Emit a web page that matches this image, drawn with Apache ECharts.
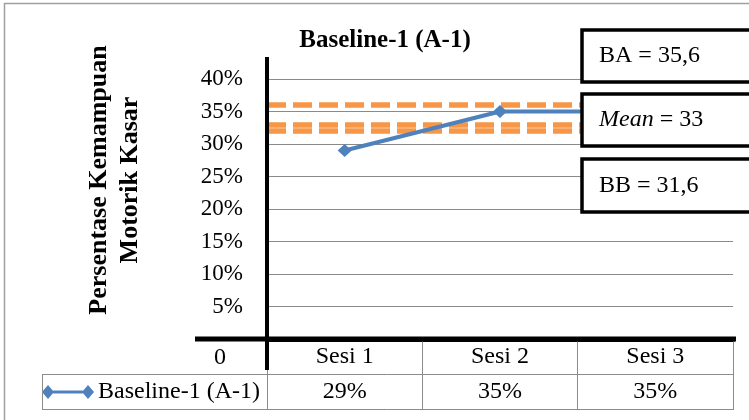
<!DOCTYPE html>
<html>
<head>
<meta charset="utf-8">
<script src="https://cdn.jsdelivr.net/npm/echarts@6/dist/echarts.min.js"></script>
<style>
  html, body { margin: 0; padding: 0; background: #fff; }
  #chart { width: 749px; height: 420px; }
</style>
</head>
<body>
<div id="chart"></div>
<script>
// Sessions and measured percentages
const sessions = ['Sesi 1', 'Sesi 2', 'Sesi 3'];
const baselineValues = [0.29, 0.35, 0.35];
const seriesName = 'Baseline-1 (A-1)';

// Stability band: upper limit, mean, lower limit (in percent)
const bandNames = ['BA', 'Mean', 'BB'];
const bandValues = [35.6, 33, 31.6];

// Y axis ticks
const yMin = 0;
const yMax = 0.4;
const yStep = 0.05;

const serif = '"Liberation Serif", "Times New Roman", serif';
const blue = '#4F81BD';
const orange = '#F79646';
const gridGray = '#8a8a8a';
const tableGray = '#8c8c8c';

const fmtPct = v => Math.round(v * 100) + '%';
const fmtComma = v => String(v).replace('.', ',');

// Annotation boxes to the right of the plot
const boxes = [
  { y: 30, h: 52, text: bandNames[0] + ' = ' + fmtComma(bandValues[0]) },
  { y: 94, h: 52, text: '{it|' + bandNames[1] + '} = ' + fmtComma(bandValues[1]) },
  { y: 159, h: 53, text: bandNames[2] + ' = ' + fmtComma(bandValues[2]) }
];

const chart = echarts.init(document.getElementById('chart'));

const graphics = [
  // outer chart border
  { type: 'rect', shape: { x: 4.5, y: 3.5, width: 760, height: 440 },
    style: { fill: 'none', stroke: '#a0a0a0', lineWidth: 1.5 }, z: 0 },
  // axis title
  { type: 'text', x: 115, y: 180, rotation: Math.PI / 2,
    style: { text: 'Persentase Kemampuan\nMotorik Kasar', font: 'bold 26px ' + serif,
      fill: '#000', align: 'center', verticalAlign: 'middle', lineHeight: 31 }, z: 10 },
  // data table frame
  { type: 'line', shape: { x1: 42, y1: 374.5, x2: 733, y2: 374.5 },
    style: { stroke: tableGray, lineWidth: 1 }, z: 5 },
  { type: 'line', shape: { x1: 42, y1: 409.5, x2: 733, y2: 409.5 },
    style: { stroke: tableGray, lineWidth: 1 }, z: 5 },
  { type: 'line', shape: { x1: 42.5, y1: 374, x2: 42.5, y2: 410 },
    style: { stroke: tableGray, lineWidth: 1 }, z: 5 },
  // heavy axis lines extending into the table
  { type: 'line', shape: { x1: 267, y1: 57, x2: 267, y2: 370 },
    style: { stroke: '#000', lineWidth: 4 }, z: 20 },
  { type: 'line', shape: { x1: 195, y1: 339, x2: 736, y2: 339 },
    style: { stroke: '#000', lineWidth: 5 }, z: 20 }
];

boxes.forEach(b => {
  graphics.push({
    type: 'rect', shape: { x: 582, y: b.y, width: 180, height: b.h },
    style: { fill: '#fff', stroke: '#000', lineWidth: 3.5 }, z: 100
  });
  graphics.push({
    type: 'text', x: 599, y: b.y + b.h / 2,
    style: {
      text: b.text, font: '24px ' + serif, fill: '#000', verticalAlign: 'middle',
      rich: { it: { fontStyle: 'italic', fontSize: 24, fontFamily: serif, fill: '#000' } }
    },
    z: 101
  });
});

chart.setOption({
  animation: false,
  backgroundColor: '#fff',
  title: {
    text: seriesName, left: 380, top: 23, textAlign: 'center',
    textStyle: { fontFamily: serif, fontWeight: 'bold', fontSize: 25, color: '#000' }
  },
  legend: {
    data: [seriesName], left: 42, top: 380, padding: 0,
    itemWidth: 52, itemHeight: 14,
    icon: 'path://M0,7 L6,0 L12,7 L6,14 Z M6,5.5 L46,5.5 L46,8.5 L6,8.5 Z M40,7 L46,0 L52,7 L46,14 Z',
    itemStyle: { color: blue },
    textStyle: { fontFamily: serif, fontSize: 24, color: '#000', lineHeight: 24, padding: [0, 0, 0, -1] }
  },
  grid: { left: 267, right: 16, top: 79, bottom: 81 },
  xAxis: [
    {
      type: 'category', data: sessions, boundaryGap: true,
      axisLine: { show: true, lineStyle: { color: '#000', width: 5 } },
      axisTick: { show: true, length: 71, lineStyle: { color: tableGray, width: 1 } },
      axisLabel: { margin: 6, color: '#000', fontFamily: serif, fontSize: 24 },
      splitLine: { show: false }
    },
    {
      type: 'category', data: sessions, boundaryGap: true, position: 'bottom', offset: 35,
      axisLine: { show: false }, axisTick: { show: false },
      axisLabel: {
        margin: 6, color: '#000', fontFamily: serif, fontSize: 24,
        formatter: (v, i) => fmtPct(baselineValues[i])
      },
      splitLine: { show: false }
    }
  ],
  yAxis: {
    type: 'value', min: yMin, max: yMax, interval: yStep,
    axisLine: { show: true, lineStyle: { color: '#000', width: 4 } },
    axisTick: { show: false },
    splitLine: { show: true, lineStyle: { color: gridGray, width: 1 } },
    axisLabel: {
      margin: 24, color: '#000', fontFamily: serif, fontSize: 23,
      formatter: v => (v === 0 ? '{z|0}' : fmtPct(v)),
      rich: { z: { fontFamily: serif, fontSize: 24, color: '#000', padding: [38, 17, 0, 0] } }
    }
  },
  series: [
    {
      // stability band drawn as dashed reference lines
      type: 'line', data: [], z: 1, silent: true,
      markLine: {
        silent: true, symbol: 'none', label: { show: false }, z: 1,
        lineStyle: { color: orange, width: 5.5, type: [19, 7], opacity: 1 },
        data: bandValues.map((v, i) => ({ name: bandNames[i], yAxis: v / 100 }))
      }
    },
    {
      name: seriesName, type: 'line', data: baselineValues, z: 3,
      symbol: 'diamond', symbolSize: [14, 13], showSymbol: true,
      lineStyle: { color: blue, width: 4 },
      itemStyle: { color: blue }
    }
  ],
  graphic: graphics
});
</script>
</body>
</html>
